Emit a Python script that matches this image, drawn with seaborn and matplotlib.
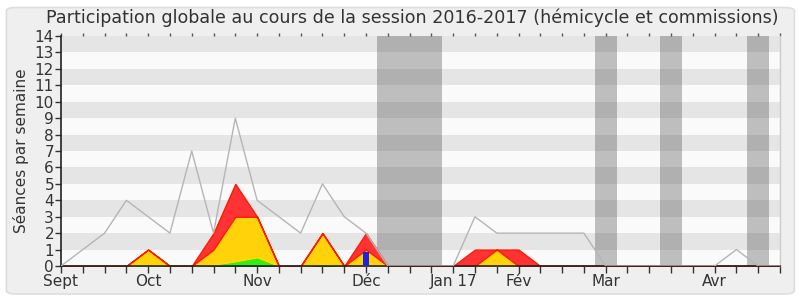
import matplotlib
matplotlib.use("Agg")
import matplotlib.pyplot as plt
from matplotlib.patches import FancyBboxPatch
import seaborn as sns
import pandas as pd

# ---- data -------------------------------------------------------------
weeks = list(range(34))
month_ticks = [0, 4, 9, 14, 18, 21, 25, 30]
month_labels = ["Sept", "Oct", "Nov", "Déc", "Jan 17", "Fév", "Mar", "Avr"]

total = [0, 1, 2, 4, 3, 2, 7, 2, 9, 4, 3, 2, 5, 3, 2, 0, 0, 0,
         0, 3, 2, 2, 2, 2, 2, 0, 0, 0, 0, 0, 0, 1, 0, 0]
green = [0, 0, 0, 0, 0.03, 0, 0, 0.08, 0.28, 0.53, 0, 0, 0.1, 0, 0, 0, 0, 0,
         0, 0, 0, 0, 0, 0, 0, 0, 0, 0, 0, 0, 0, 0, 0, 0]
yellow = [0, 0, 0, 0, 0.97, 0, 0, 0.92, 2.72, 2.47, 0, 0, 1.9, 0, 1, 0, 0, 0,
          0, 0, 1, 0, 0, 0, 0, 0, 0, 0, 0, 0, 0, 0, 0, 0]
red = [0, 0, 0, 0, 0, 0, 0, 1, 2, 0, 0, 0, 0, 0, 1, 0, 0, 0,
       0, 1, 0, 1, 0, 0, 0, 0, 0, 0, 0, 0, 0, 0, 0, 0]
blue_weeks = [14]
blue_vals = [0.87]
vacations = [(14.5, 17.5), (24.5, 25.5), (27.5, 28.5), (31.5, 32.5)]

title = "Participation globale au cours de la session 2016-2017 (hémicycle et commissions)"
ylabel = "Séances par semaine"

# ---- figure -----------------------------------------------------------
sns.set_theme(style="white")
plt.rcParams["font.family"] = ["DejaVu Sans"]

fig = plt.figure(figsize=(8, 3), dpi=100)
fig.patch.set_facecolor("white")
bg = FancyBboxPatch((0.008, 0.02), 0.985, 0.955, boxstyle="round,pad=0,rounding_size=0.012",
                    transform=fig.transFigure, facecolor="#efefef", edgecolor="#dddddd",
                    linewidth=1.2, zorder=-10)
fig.patches.append(bg)

ax = fig.add_axes([0.07625, 0.1133, 0.89875, 0.7667])
ax.set_facecolor("#fafafa")

for i in range(1, 14, 2):
    ax.axhspan(i, i + 1, color="#e5e5e5", zorder=0, linewidth=0)
for a, b in vacations:
    ax.axvspan(a, b, color="#363636", alpha=0.3, zorder=1, linewidth=0)

df = pd.DataFrame({"week": weeks, "total": total})

polys = ax.stackplot(weeks, green, yellow, red,
                     colors=["#33ee11", "#ffd20a", "#ff3333"], zorder=2)
for p, ec in zip(polys, ["#11bb00", "#ffe000", "#ff1a00"]):
    p.set_edgecolor(ec)
    p.set_linewidth(1.0)

sns.lineplot(data=df, x="week", y="total", color="#b5b5b5", linewidth=1.0,
             ax=ax, zorder=3)
ax.bar(blue_weeks, blue_vals, width=0.28, color="#2222dd", zorder=4, linewidth=0)

ax.set_xlim(0, 33)
ax.set_ylim(0, 14)
ax.set_yticks(range(0, 15))
ax.set_yticklabels([str(v) for v in range(0, 15)], fontsize=11, color="#333333")
ax.set_xticks(weeks)
xl = [""] * len(weeks)
for w, lab in zip(month_ticks, month_labels):
    xl[w] = lab
ax.set_xticklabels(xl, fontsize=11, color="#333333")
ax.tick_params(axis="x", bottom=True, top=False, direction="out", length=5,
               width=1, color="#333333", pad=1)
ax.tick_params(axis="y", left=True, direction="out", length=4, width=1,
               color="#333333", pad=1)
ax.set_xlabel("")
ax.set_ylabel(ylabel, fontsize=11, color="#333333", labelpad=4)

top = ax.secondary_xaxis("top")
top.set_xticks(weeks)
top.set_xticklabels([""] * len(weeks))
top.tick_params(axis="x", direction="out", length=2, width=1, color="#555555")
top.spines["top"].set_visible(False)

for s in ["left", "bottom"]:
    ax.spines[s].set_color("#222222")
    ax.spines[s].set_linewidth(1.2)
ax.spines["top"].set_visible(False)
ax.spines["right"].set_color("#cccccc")
ax.spines["right"].set_linewidth(1)

fig.text(0.515, 0.94, title, ha="center", va="center", fontsize=12.6, color="#333333")

fig.savefig("out.png", dpi=100, facecolor=fig.get_facecolor())
